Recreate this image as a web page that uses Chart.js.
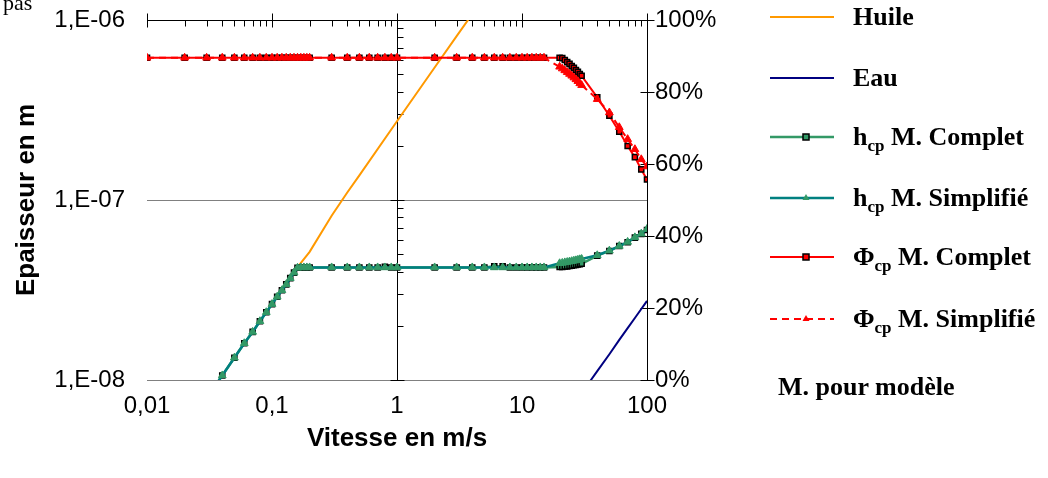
<!DOCTYPE html>
<html><head><meta charset="utf-8">
<script src="https://cdn.jsdelivr.net/npm/chart.js@4.4.0/dist/chart.umd.min.js"></script>
<style>
html,body{margin:0;padding:0;background:#fff;}
#wrap{position:relative;width:1048px;height:478px;overflow:hidden;background:#fff;}
#c{position:absolute;left:0;top:0;}
.lg{position:absolute;left:770px;height:30px;display:flex;align-items:center;font:bold 26px "Liberation Serif","Times New Roman",serif;color:#000;white-space:nowrap;}
.lg svg{margin-right:19px;flex:none;}
.lg sub{font-size:17px;vertical-align:-6px;line-height:0;}
#note{position:absolute;left:778px;height:30px;display:flex;align-items:center;font:bold 26px "Liberation Serif","Times New Roman",serif;color:#000;white-space:nowrap;}
#pas{position:absolute;left:3px;top:-8px;font:22px/22px "Liberation Serif","Times New Roman",serif;color:#000;}
</style></head>
<body>
<div id="wrap">
<canvas id="c" width="1048" height="478"></canvas>
<div id="pas">pas</div>
<div id="legend"></div>
<div id="note" style="top:372px">M. pour modèle</div>
</div>
<script>
// ---------- data ----------
const speeds = [0.01,0.02,0.03,0.04,0.05,0.06,0.07,0.08,0.09,0.1,0.11,0.12,0.13,0.14,0.15,0.16,0.17,0.18,0.19,0.2,0.3,0.4,0.5,0.6,0.7,0.8,0.9,1,2,3,4,5,6,7,8,9,10,11,12,13,14,15,20,21,22,23,24,25,26,27,28,29,30,40,50,60,70,80,90,100];
const hcpComplet = [2.6e-9,5.3e-9,7.9e-9,1.06e-8,1.33e-8,1.6e-8,1.85e-8,2.12e-8,2.38e-8,2.64e-8,2.9e-8,3.15e-8,3.4e-8,3.68e-8,3.95e-8,4.2e-8,4.22e-8,4.22e-8,4.22e-8,4.22e-8,4.22e-8,4.22e-8,4.22e-8,4.22e-8,4.22e-8,4.26e-8,4.22e-8,4.22e-8,4.22e-8,4.22e-8,4.22e-8,4.22e-8,4.28e-8,4.28e-8,4.22e-8,4.22e-8,4.22e-8,4.22e-8,4.22e-8,4.22e-8,4.22e-8,4.22e-8,4.25e-8,4.25e-8,4.27e-8,4.28e-8,4.3e-8,4.32e-8,4.34e-8,4.36e-8,4.38e-8,4.4e-8,4.42e-8,4.91e-8,5.21e-8,5.55e-8,5.82e-8,6.18e-8,6.48e-8,6.81e-8];
const hcpSimplifie = [2.6e-9,5.3e-9,7.9e-9,1.06e-8,1.33e-8,1.6e-8,1.85e-8,2.12e-8,2.38e-8,2.64e-8,2.9e-8,3.15e-8,3.4e-8,3.68e-8,3.95e-8,4.2e-8,4.22e-8,4.22e-8,4.22e-8,4.22e-8,4.22e-8,4.22e-8,4.22e-8,4.22e-8,4.22e-8,4.22e-8,4.22e-8,4.22e-8,4.22e-8,4.22e-8,4.22e-8,4.22e-8,4.22e-8,4.22e-8,4.22e-8,4.22e-8,4.22e-8,4.22e-8,4.22e-8,4.22e-8,4.22e-8,4.22e-8,4.45e-8,4.47e-8,4.5e-8,4.52e-8,4.55e-8,4.57e-8,4.6e-8,4.62e-8,4.65e-8,4.68e-8,4.7e-8,4.93e-8,5.23e-8,5.55e-8,5.85e-8,6.2e-8,6.5e-8,6.9e-8];
const phiComplet = [89.5,89.5,89.5,89.5,89.5,89.5,89.5,89.5,89.5,89.5,89.5,89.5,89.5,89.5,89.5,89.5,89.5,89.5,89.5,89.5,89.5,89.5,89.5,89.5,89.5,89.5,89.5,89.5,89.5,89.5,89.5,89.5,89.5,89.5,89.5,89.5,89.5,89.5,89.5,89.5,89.5,89.5,89.5,89.4,88.9,88.3,87.8,87.2,86.7,86.1,85.6,85.0,84.5,78.5,73.4,69.0,65.0,61.9,58.5,55.7];
const phiSimplifie = [89.5,89.5,89.5,89.5,89.5,89.5,89.5,89.5,89.5,89.5,89.5,89.5,89.5,89.5,89.5,89.5,89.5,89.5,89.5,89.5,89.5,89.5,89.5,89.5,89.5,89.5,89.5,89.5,89.5,89.5,89.5,89.5,89.5,89.5,89.5,89.5,89.5,89.5,89.5,89.5,89.5,89.5,87.0,86.5,86.0,85.5,85.0,84.5,84.0,83.5,83.0,82.4,81.9,78.0,74.3,70.2,66.9,64.1,61.3,59.3];
const huileSpeeds = [0.16,0.2,0.3,0.4,0.5,1,2,3,4];
const huileValues = [4.24e-8,5.15e-8,8.18e-8,1.1e-7,1.37e-7,2.74e-7,5.45e-7,8.13e-7,1.08e-6];
const eauSpeeds = [30,35.6,40,50,60,70,80,90,100,103];
const eauValues = [8.3e-9,1.0e-8,1.12e-8,1.39e-8,1.67e-8,1.94e-8,2.21e-8,2.48e-8,2.75e-8,2.85e-8];
const xTickValues = [0.01,0.1,1,10,100];
const xTickLabels = ['0,01','0,1','1','10','100'];
const yTickValues = [1e-8,1e-7,1e-6];
const yTickLabels = ['1,E-08','1,E-07','1,E-06'];
const y2TickValues = [0,20,40,60,80,100];
const y2TickLabels = ['0%','20%','40%','60%','80%','100%'];
const seriesNames = ['Huile','Eau','h<sub>cp</sub> M. Complet','h<sub>cp</sub> M. Simplifié','Φ<sub>cp</sub> M. Complet','Φ<sub>cp</sub> M. Simplifié'];
const xTitle = 'Vitesse en m/s';
const yTitle = 'Epaisseur en m';

// ---------- styles ----------
const C_ORANGE = '#FF9900', C_NAVY = '#000080', C_SEA = '#339966', C_TEAL = '#008080', C_RED = '#FF0000';
const pts = (xs, ys) => xs.map((x, i) => ({x: x, y: ys[i]}));
const AX_FONT = {family: '"Liberation Sans", Arial, sans-serif', size: 24};
const TITLE_FONT = {family: '"Liberation Sans", Arial, sans-serif', size: 26, weight: 'bold'};

const decor = {
  id: 'decor',
  beforeDatasetsDraw(chart) {
    const {ctx, chartArea: a, scales: {x, y, y2}} = chart;
    ctx.save();
    ctx.strokeStyle = '#000';
    ctx.lineWidth = 1;
    const line = (x1, y1, x2, y2_) => { ctx.beginPath(); ctx.moveTo(x1, y1); ctx.lineTo(x2, y2_); ctx.stroke(); };
    // top horizontal axis line (value axis crossing at 1E-06)
    const yt = Math.round(a.top) + 0.5;
    line(a.left, yt, a.right, yt);
    for (const d of xTickValues) {
      const px = Math.round(x.getPixelForValue(d)) + 0.5;
      line(px, yt - 7, px, yt + 7);
      if (d < 100) for (let k = 2; k <= 9; k++) {
        const mx = Math.round(x.getPixelForValue(d * k)) + 0.5;
        line(mx, yt, mx, yt + 6);
      }
    }
    // vertical axis at V = 1
    const x1 = Math.round(x.getPixelForValue(1)) + 0.5;
    line(x1, a.top, x1, a.bottom);
    for (const d of yTickValues) {
      const py = Math.round(y.getPixelForValue(d)) + 0.5;
      line(x1 - 7, py, x1 + 7, py);
      if (d < 1e-6) for (let k = 2; k <= 9; k++) {
        const my = Math.round(y.getPixelForValue(d * k)) + 0.5;
        line(x1, my, x1 + 6, my);
      }
    }
    // right axis ticks
    const xr = Math.round(a.right) + 0.5;
    for (const v of y2TickValues) {
      const py = Math.round(y2.getPixelForValue(v)) + 0.5;
      line(xr - 7, py, xr + 7, py);
    }
    ctx.restore();
  }
};

const vFit = w => s => { s.width = w; s.paddingTop = 0; s.paddingBottom = 0; };

new Chart(document.getElementById('c'), {
  type: 'line',
  data: {
    datasets: [
      {label: 'Huile', data: pts(huileSpeeds, huileValues), yAxisID: 'y', borderColor: C_ORANGE, borderWidth: 2, pointRadius: 0, order: 6},
      {label: 'Eau', data: pts(eauSpeeds, eauValues), yAxisID: 'y', borderColor: C_NAVY, borderWidth: 2, pointRadius: 0, order: 5},
      {label: 'hcp M. Complet', data: pts(speeds, hcpComplet), yAxisID: 'y', borderColor: C_SEA, borderWidth: 2.5,
        pointStyle: 'rect', pointRadius: 3.6, pointBorderColor: '#000', pointBackgroundColor: C_SEA, pointBorderWidth: 1.5, order: 4},
      {label: 'hcp M. Simplifié', data: pts(speeds, hcpSimplifie), yAxisID: 'y', borderColor: C_TEAL, borderWidth: 2.5,
        pointStyle: 'triangle', pointRadius: 4.5, pointBorderColor: C_SEA, pointBackgroundColor: C_SEA, pointBorderWidth: 1, order: 3},
      {label: 'Phi M. Complet', data: pts(speeds, phiComplet), yAxisID: 'y2', borderColor: C_RED, borderWidth: 2,
        pointStyle: 'rect', pointRadius: 3.6, pointBorderColor: '#000', pointBackgroundColor: C_RED, pointBorderWidth: 1.5, order: 2},
      {label: 'Phi M. Simplifié', data: pts(speeds, phiSimplifie), yAxisID: 'y2', borderColor: C_RED, borderWidth: 2, borderDash: [7, 5],
        pointStyle: 'triangle', pointRadius: 4.5, pointBorderColor: C_RED, pointBackgroundColor: C_RED, pointBorderWidth: 1, order: 1}
    ]
  },
  options: {
    responsive: false, animation: false, devicePixelRatio: 1,
    layout: {padding: {top: 20, left: 0, right: 0, bottom: 0}},
    plugins: {legend: {display: false}, tooltip: {enabled: false}},
    elements: {line: {tension: 0}},
    scales: {
      x: {
        type: 'logarithmic', min: 0.01, max: 100, position: 'bottom',
        afterBuildTicks: s => { s.ticks = xTickValues.map(v => ({value: v})); },
        afterFit: s => { s.height = 98; s.paddingLeft = 0; s.paddingRight = 0; },
        grid: {display: false, drawTicks: false}, border: {display: false},
        ticks: {callback: (v, i) => xTickLabels[i], font: AX_FONT, color: '#000', padding: 12, maxRotation: 0, autoSkip: false},
        title: {display: true, text: xTitle, font: TITLE_FONT, color: '#000', padding: {top: 0, bottom: 24}}
      },
      y: {
        type: 'logarithmic', min: 1e-8, max: 1e-6, position: 'left',
        afterBuildTicks: s => { s.ticks = yTickValues.map(v => ({value: v})); },
        afterFit: vFit(147),
        grid: {color: '#808080', lineWidth: 1, drawTicks: false}, border: {display: false},
        ticks: {callback: (v, i) => yTickLabels[i], font: AX_FONT, color: '#000', padding: 22, autoSkip: false},
        title: {display: true, text: yTitle, font: TITLE_FONT, color: '#000', padding: {top: 11, bottom: 0}}
      },
      y2: {
        type: 'linear', min: 0, max: 100, position: 'right',
        afterBuildTicks: s => { s.ticks = y2TickValues.map(v => ({value: v})); },
        afterFit: vFit(401),
        grid: {display: false, drawTicks: false}, border: {display: true, color: '#000', width: 1},
        ticks: {callback: (v, i) => y2TickLabels[i], font: AX_FONT, color: '#000', padding: 8, autoSkip: false}
      }
    }
  },
  plugins: [decor]
});

// ---------- legend (HTML, with subscripts) ----------
const legendRows = [17, 78, 137, 198, 257, 319];
const samples = [
  `<line x1="0" y1="15" x2="64" y2="15" stroke="${C_ORANGE}" stroke-width="2"/>`,
  `<line x1="0" y1="15" x2="64" y2="15" stroke="${C_NAVY}" stroke-width="2"/>`,
  `<line x1="0" y1="15" x2="64" y2="15" stroke="${C_SEA}" stroke-width="2.5"/><rect x="33" y="12" width="6" height="6" fill="${C_SEA}" stroke="#000" stroke-width="1.5"/>`,
  `<line x1="0" y1="15" x2="64" y2="15" stroke="${C_TEAL}" stroke-width="2.5"/><polygon points="36,11 39.5,17 32.5,17" fill="${C_SEA}"/>`,
  `<line x1="0" y1="15" x2="64" y2="15" stroke="${C_RED}" stroke-width="2"/><rect x="33" y="12" width="6" height="6" fill="${C_RED}" stroke="#000" stroke-width="1.5"/>`,
  `<line x1="0" y1="15" x2="64" y2="15" stroke="${C_RED}" stroke-width="2" stroke-dasharray="7,5"/><polygon points="36,11 39.5,17 32.5,17" fill="${C_RED}"/>`
];
const lg = document.getElementById('legend');
seriesNames.forEach((name, i) => {
  const d = document.createElement('div');
  d.className = 'lg';
  d.style.top = (legendRows[i] - 15) + 'px';
  d.innerHTML = `<svg width="64" height="30" viewBox="0 0 64 30">${samples[i]}</svg><span>${name}</span>`;
  lg.appendChild(d);
});
</script>
</body></html>
